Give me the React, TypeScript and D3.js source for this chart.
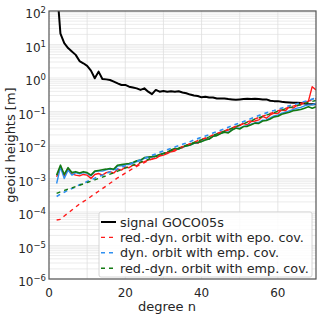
import React, { useRef, useEffect } from 'react'
import * as d3 from 'd3'

// spherical harmonic degrees 2..70
const degrees = d3.range(2, 71)

const signalGOCO05s = [
    630, 21, 11, 7.8, 6.2, 4.9, 3.2, 2.75, 2.3, 1.66,
    0.98, 1.55, 0.93, 0.91, 0.87, 0.78, 0.69, 0.62, 0.62, 0.55,
    0.52, 0.49, 0.44, 0.49, 0.39, 0.33, 0.44, 0.39, 0.41, 0.39,
    0.4, 0.39, 0.4, 0.37, 0.35, 0.32, 0.3, 0.29, 0.265, 0.275,
    0.26, 0.26, 0.245, 0.245, 0.245, 0.235, 0.23, 0.225, 0.23, 0.235,
    0.24, 0.235, 0.24, 0.235, 0.23, 0.23, 0.21, 0.204, 0.204, 0.195,
    0.19, 0.186, 0.182, 0.182, 0.178, 0.174, 0.166, 0.166, 0.166,
]

const redDynEpoDiff = [
    1.12e-3, 2.2e-3, 1.2e-3, 1.9e-3, 1.38e-3, 1.26e-3, 1.2e-3, 1.32e-3, 1.26e-3, 1.0e-3,
    1.32e-3, 1.41e-3, 1.26e-3, 1.5e-3, 1.6e-3, 1.45e-3, 1.9e-3, 1.78e-3, 2.2e-3, 2.1e-3,
    2.5e-3, 2.4e-3, 3.0e-3, 3.2e-3, 3.55e-3, 3.8e-3, 4.0e-3, 4.7e-3, 5.0e-3, 5.5e-3,
    6.3e-3, 6.6e-3, 7.9e-3, 8.3e-3, 1.0e-2, 1.05e-2, 1.17e-2, 1.12e-2, 1.41e-2, 1.58e-2,
    1.51e-2, 1.9e-2, 2.1e-2, 2.4e-2, 2.6e-2, 2.8e-2, 3.2e-2, 3.55e-2, 3.8e-2, 4.4e-2,
    4.0e-2, 5.0e-2, 5.2e-2, 5.6e-2, 7.1e-2, 6.3e-2, 7.9e-2, 8.9e-2, 8.7e-2, 0.112,
    0.105, 0.138, 0.126, 0.151, 0.158, 0.19, 0.2, 0.55, 0.44,
]

const dynEmpDiff = [
    7.1e-4, 2.2e-3, 1.0e-3, 1.78e-3, 1.26e-3, 1.5e-3, 1.38e-3, 1.5e-3, 1.45e-3, 1.2e-3,
    1.6e-3, 1.66e-3, 1.66e-3, 1.82e-3, 1.9e-3, 1.82e-3, 2.35e-3, 2.4e-3, 2.6e-3, 2.6e-3,
    2.9e-3, 3.2e-3, 3.5e-3, 4.0e-3, 4.2e-3, 4.4e-3, 4.6e-3, 5.1e-3, 5.5e-3, 6.0e-3,
    6.9e-3, 7.6e-3, 7.6e-3, 8.7e-3, 9.3e-3, 1.0e-2, 1.12e-2, 1.17e-2, 1.29e-2, 1.45e-2,
    1.51e-2, 1.82e-2, 1.95e-2, 2.24e-2, 2.45e-2, 2.4e-2, 2.9e-2, 3.2e-2, 3.2e-2, 3.6e-2,
    3.8e-2, 4.2e-2, 4.6e-2, 4.7e-2, 5.5e-2, 5.6e-2, 6.5e-2, 7.4e-2, 7.8e-2, 8.9e-2,
    9.5e-2, 0.105, 0.115, 0.126, 0.132, 0.148, 0.158, 0.158, 0.174,
]

const redDynEmpDiff = [
    1.26e-3, 2.5e-3, 1.32e-3, 2.1e-3, 1.5e-3, 1.6e-3, 1.45e-3, 1.6e-3, 1.5e-3, 1.26e-3,
    1.66e-3, 1.74e-3, 1.82e-3, 1.9e-3, 2.0e-3, 1.9e-3, 2.5e-3, 2.6e-3, 2.7e-3, 2.8e-3,
    3.0e-3, 3.4e-3, 3.55e-3, 4.2e-3, 4.4e-3, 4.5e-3, 4.7e-3, 5.2e-3, 5.6e-3, 6.0e-3,
    7.1e-3, 7.9e-3, 7.6e-3, 8.9e-3, 9.3e-3, 1.0e-2, 1.12e-2, 1.2e-2, 1.26e-2, 1.41e-2,
    1.51e-2, 1.82e-2, 1.9e-2, 2.2e-2, 2.4e-2, 2.3e-2, 2.8e-2, 3.2e-2, 3.0e-2, 3.55e-2,
    3.6e-2, 4.0e-2, 4.5e-2, 4.4e-2, 5.2e-2, 5.4e-2, 6.0e-2, 6.9e-2, 7.2e-2, 8.3e-2,
    8.9e-2, 9.5e-2, 0.105, 0.11, 0.115, 0.126, 0.138, 0.126, 0.138,
]

// formal errors (dashed)
const redDynEpoCov = [
    5.75e-5, 6.0e-5, 7.6e-5, 9.3e-5, 1.15e-4, 1.41e-4, 1.74e-4, 2.04e-4, 2.4e-4, 2.9e-4,
    3.47e-4, 4.17e-4, 5.0e-4, 6.0e-4, 7.2e-4, 8.7e-4, 1.05e-3, 1.23e-3, 1.45e-3, 1.7e-3,
    2.0e-3, 2.3e-3, 2.63e-3, 3.0e-3, 3.4e-3, 3.8e-3, 4.27e-3, 4.8e-3, 5.4e-3, 5.9e-3,
    6.6e-3, 7.2e-3, 8.1e-3, 8.9e-3, 9.8e-3, 1.1e-2, 1.2e-2, 1.35e-2, 1.48e-2, 1.62e-2,
    1.78e-2, 2.0e-2, 2.2e-2, 2.4e-2, 2.63e-2, 2.95e-2, 3.24e-2, 3.63e-2, 3.98e-2, 4.37e-2,
    4.9e-2, 5.37e-2, 6.0e-2, 6.6e-2, 7.24e-2, 7.94e-2, 8.7e-2, 9.55e-2, 0.105, 0.115,
    0.123, 0.135, 0.145, 0.158, 0.174, 0.186, 0.204, 0.219, 0.24,
]

const dynEmpCov = [
    2.9e-4, 3.4e-4, 3.9e-4, 4.5e-4, 5.0e-4, 5.6e-4, 6.5e-4, 7.2e-4, 8.1e-4, 9.1e-4,
    1.02e-3, 1.15e-3, 1.26e-3, 1.41e-3, 1.58e-3, 1.74e-3, 1.95e-3, 2.14e-3, 2.4e-3, 2.63e-3,
    2.95e-3, 3.24e-3, 3.63e-3, 3.98e-3, 4.37e-3, 4.9e-3, 5.37e-3, 6.03e-3, 6.6e-3, 7.24e-3,
    7.94e-3, 8.7e-3, 9.55e-3, 1.05e-2, 1.15e-2, 1.26e-2, 1.41e-2, 1.55e-2, 1.7e-2, 1.86e-2,
    2.04e-2, 2.29e-2, 2.51e-2, 2.75e-2, 3.02e-2, 3.39e-2, 3.72e-2, 4.17e-2, 4.57e-2, 5.0e-2,
    5.6e-2, 6.2e-2, 6.9e-2, 7.6e-2, 8.3e-2, 9.1e-2, 0.1, 0.107, 0.117, 0.126,
    0.138, 0.148, 0.158, 0.17, 0.186, 0.2, 0.214, 0.234, 0.251,
]

const redDynEmpCov = [
    3.6e-4, 4.0e-4, 4.4e-4, 4.8e-4, 5.2e-4, 5.75e-4, 6.3e-4, 6.9e-4, 7.6e-4, 8.3e-4,
    9.1e-4, 1.0e-3, 1.1e-3, 1.2e-3, 1.35e-3, 1.48e-3, 1.66e-3, 1.82e-3, 2.04e-3, 2.24e-3,
    2.5e-3, 2.75e-3, 3.1e-3, 3.4e-3, 3.7e-3, 4.17e-3, 4.57e-3, 5.1e-3, 5.6e-3, 6.2e-3,
    6.8e-3, 7.4e-3, 8.1e-3, 8.9e-3, 9.8e-3, 1.07e-2, 1.2e-2, 1.32e-2, 1.45e-2, 1.58e-2,
    1.74e-2, 1.95e-2, 2.14e-2, 2.34e-2, 2.57e-2, 2.88e-2, 3.16e-2, 3.55e-2, 3.9e-2, 4.27e-2,
    4.8e-2, 5.25e-2, 5.9e-2, 6.5e-2, 7.1e-2, 7.8e-2, 8.5e-2, 9.3e-2, 0.102, 0.11,
    0.12, 0.129, 0.138, 0.148, 0.162, 0.174, 0.186, 0.2, 0.214,
]

const xTickValues = [0, 20, 40, 60]
const yDecades = [-6, -5, -4, -3, -2, -1, 0, 1, 2]

const legendItems = [
    { label: 'signal GOCO05s', color: '#000000', dashed: false },
    { label: 'red.-dyn. orbit with epo. cov.', color: '#ff1a1a', dashed: true },
    { label: 'dyn. orbit with emp. cov.', color: '#2f8ff0', dashed: true },
    { label: 'red.-dyn. orbit with emp. cov.', color: '#137a13', dashed: true },
]

const App = () => {
    const svgRef = useRef<SVGSVGElement>(null)

    useEffect(() => {
        const svg = d3.select(svgRef.current)
        const width = 320
        const height = 317
        const margin = { top: 11, right: 4, bottom: 38, left: 49 }
        const font = 'DejaVu Sans, sans-serif'

        svg.selectAll('*').remove()

        const xScale = d3.scaleLinear().domain([0, 70]).range([margin.left, width - margin.right])
        const yScale = d3.scaleLog().domain([1e-6, 1e2]).range([height - margin.bottom, margin.top])

        // grid
        const grid = svg.append('g')
        grid.selectAll('.hgrid')
            .data(yScale.ticks())
            .enter()
            .append('line')
            .attr('x1', margin.left)
            .attr('x2', width - margin.right)
            .attr('y1', (d) => yScale(d))
            .attr('y2', (d) => yScale(d))
            .attr('stroke', '#e6e6e6')
            .attr('stroke-width', 0.8)
        grid.selectAll('.vgrid')
            .data(d3.range(10, 70, 10))
            .enter()
            .append('line')
            .attr('x1', (d) => xScale(d))
            .attr('x2', (d) => xScale(d))
            .attr('y1', margin.top)
            .attr('y2', height - margin.bottom)
            .attr('stroke', '#dedede')
            .attr('stroke-width', 0.8)

        svg.append('clipPath')
            .attr('id', 'plot-clip')
            .append('rect')
            .attr('x', margin.left)
            .attr('y', margin.top)
            .attr('width', width - margin.left - margin.right)
            .attr('height', height - margin.top - margin.bottom)

        const line = d3
            .line<number>()
            .x((d, i) => xScale(degrees[i]))
            .y((d) => yScale(d))

        const lines = svg.append('g').attr('clip-path', 'url(#plot-clip)')
        const series = [
            { values: signalGOCO05s, color: '#000000', width: 2, dash: null },
            { values: redDynEpoDiff, color: '#ff1a1a', width: 1.4, dash: null },
            { values: dynEmpDiff, color: '#2f8ff0', width: 1.4, dash: null },
            { values: redDynEmpDiff, color: '#137a13', width: 1.6, dash: null },
            { values: redDynEpoCov, color: '#ff1a1a', width: 1.4, dash: '4,4' },
            { values: dynEmpCov, color: '#2f8ff0', width: 1.6, dash: '4,4' },
            { values: redDynEmpCov, color: '#137a13', width: 1.4, dash: '4,4' },
        ]
        series.forEach((s) => {
            lines.append('path')
                .datum(s.values)
                .attr('fill', 'none')
                .attr('stroke', s.color)
                .attr('stroke-width', s.width)
                .attr('stroke-dasharray', s.dash)
                .attr('stroke-linejoin', 'round')
                .attr('d', line)
        })

        // frame
        svg.append('rect')
            .attr('x', margin.left)
            .attr('y', margin.top)
            .attr('width', width - margin.left - margin.right)
            .attr('height', height - margin.top - margin.bottom)
            .attr('fill', 'none')
            .attr('stroke', '#555')
            .attr('stroke-width', 1.2)

        // x tick labels
        svg.selectAll('.xtick')
            .data(xTickValues)
            .enter()
            .append('text')
            .attr('x', (d) => xScale(d))
            .attr('y', 297)
            .attr('text-anchor', 'middle')
            .style('font-family', font)
            .style('font-size', '12px')
            .style('fill', '#262626')
            .text((d) => d)

        // y tick labels 10^n
        const yLabels = svg.selectAll('.ytick')
            .data(yDecades)
            .enter()
            .append('text')
            .attr('x', 46)
            .attr('y', (d) => yScale(Math.pow(10, d)) + 7)
            .attr('text-anchor', 'end')
            .style('font-family', font)
            .style('font-size', '12px')
            .style('fill', '#262626')
        yLabels.append('tspan').text('10')
        yLabels.append('tspan')
            .attr('dy', -5)
            .style('font-size', '8.5px')
            .text((d) => (d < 0 ? '\u2212' + Math.abs(d) : String(d)))

        // axis labels
        svg.append('text')
            .attr('x', 167)
            .attr('y', 311)
            .attr('text-anchor', 'middle')
            .style('font-family', font)
            .style('font-size', '13px')
            .style('fill', '#262626')
            .text('degree n')
        svg.append('text')
            .attr('transform', `translate(15, ${(margin.top + height - margin.bottom) / 2}) rotate(-90)`)
            .attr('text-anchor', 'middle')
            .style('font-family', font)
            .style('font-size', '13px')
            .style('fill', '#262626')
            .text('geoid heights [m]')

        // legend
        const legend = svg.append('g')
        legend.append('rect')
            .attr('x', 99)
            .attr('y', 212)
            .attr('width', 213)
            .attr('height', 65)
            .attr('rx', 2)
            .attr('fill', 'white')
            .attr('fill-opacity', 0.85)
            .attr('stroke', '#cccccc')
            .attr('stroke-width', 0.8)
        legendItems.forEach((item, i) => {
            const cy = 222 + i * 15.4
            legend.append('line')
                .attr('x1', 101)
                .attr('x2', 116)
                .attr('y1', cy)
                .attr('y2', cy)
                .attr('stroke', item.color)
                .attr('stroke-width', item.dashed ? 1.4 : 2)
                .attr('stroke-dasharray', item.dashed ? '4,4' : null)
            legend.append('text')
                .attr('x', 120)
                .attr('y', cy + 4.5)
                .style('font-family', font)
                .style('font-size', '12.8px')
                .style('fill', '#262626')
                .text(item.label)
        })
    }, [])

    return (
        <div style={{ position: 'absolute', left: 0, top: 0 }}>
            <svg ref={svgRef} width={320} height={317} style={{ display: 'block' }} />
        </div>
    )
}

export default App
